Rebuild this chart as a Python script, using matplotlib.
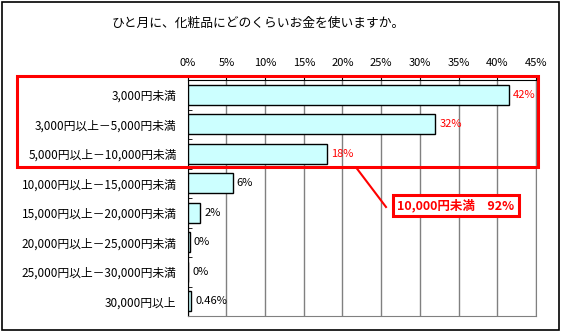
import matplotlib.pyplot as plt
from matplotlib.patches import Rectangle

plt.rcParams['font.family'] = ['Noto Sans CJK JP', 'DejaVu Sans']

categories = ['3,000円未満', '3,000円以上－5,000円未満', '5,000円以上－10,000円未満',
              '10,000円以上－15,000円未満', '15,000円以上－20,000円未満',
              '20,000円以上－25,000円未満', '25,000円以上－30,000円未満', '30,000円以上']
values = [41.5, 32.0, 18.0, 5.8, 1.6, 0.25, 0.1, 0.46]
value_labels = ['42%', '32%', '18%', '6%', '2%', '0%', '0%', '0.46%']
label_colors = ['red', 'red', 'red', 'black', 'black', 'black', 'black', 'black']
xticks = [0, 5, 10, 15, 20, 25, 30, 35, 40, 45]
title = 'ひと月に、化粧品にどのくらいお金を使いますか。'
callout = '10,000円未満　92%'

W, H = 561, 331
fig = plt.figure(figsize=(W / 100, H / 100), dpi=100)

# outer frame
fig.patches.append(Rectangle((1.5 / W, 1.5 / H), (W - 3.5) / W, (H - 3.5) / H,
                             transform=fig.transFigure, fill=False,
                             edgecolor='black', linewidth=1.2))

ax = fig.add_axes([187.7 / W, 15 / H, (536 - 187.7) / W, (316 - 80) / H])
pos = list(range(len(categories)))
ax.barh(pos, values, height=0.68, color='#ccffff', edgecolor='black', linewidth=1.0, zorder=3)
ax.set_ylim(len(categories) - 0.5, -0.5)
ax.set_xlim(0, 45)

ax.xaxis.tick_top()
ax.set_xticks(xticks)
ax.set_xticklabels([f'{t}%' for t in xticks], fontsize=8)
ax.tick_params(axis='x', direction='out', length=3, pad=6, color='black')
ax.grid(axis='x', color='#808080', linewidth=1.0, zorder=0)

ax.set_yticks(pos)
ax.set_yticklabels(categories, fontsize=8.5)
ax.tick_params(axis='y', length=0, pad=8)
ax.set_yticks([p + 0.5 for p in pos[:-1]], minor=True)
ax.tick_params(axis='y', which='minor', direction='in', length=3, color='black')

ax.spines['top'].set_color('black')
ax.spines['left'].set_color('black')
ax.spines['right'].set_color('#808080')
ax.spines['bottom'].set_color('#808080')

for p, v, lab, c in zip(pos, values, value_labels, label_colors):
    ax.text(v + 0.55, p, lab, va='center', ha='left', fontsize=8, color=c)

fig.text(258 / W, 1 - 23 / H, title, ha='center', va='center', fontsize=9.2)

# red highlight frame around the first three categories
fig.patches.append(Rectangle((16.5 / W, 1 - 167.5 / H), (537.5 - 16.5) / W, (167.5 - 76) / H,
                             transform=fig.transFigure, fill=False,
                             edgecolor='red', linewidth=2.2, zorder=10))
fig.lines.append(plt.Line2D([356.5 / W, 386 / W], [1 - 168 / H, 1 - 207 / H],
                            transform=fig.transFigure, color='red', linewidth=1.5))
fig.patches.append(Rectangle((393 / W, 1 - 215.5 / H), (519 - 393) / W, (215.5 - 195) / H,
                             transform=fig.transFigure, facecolor='white',
                             edgecolor='red', linewidth=2.2, zorder=10))
fig.text(456 / W, 1 - 205.5 / H, callout, ha='center', va='center', fontsize=9,
         color='red', fontweight='bold', zorder=11)

plt.savefig('out.png', dpi=100)
